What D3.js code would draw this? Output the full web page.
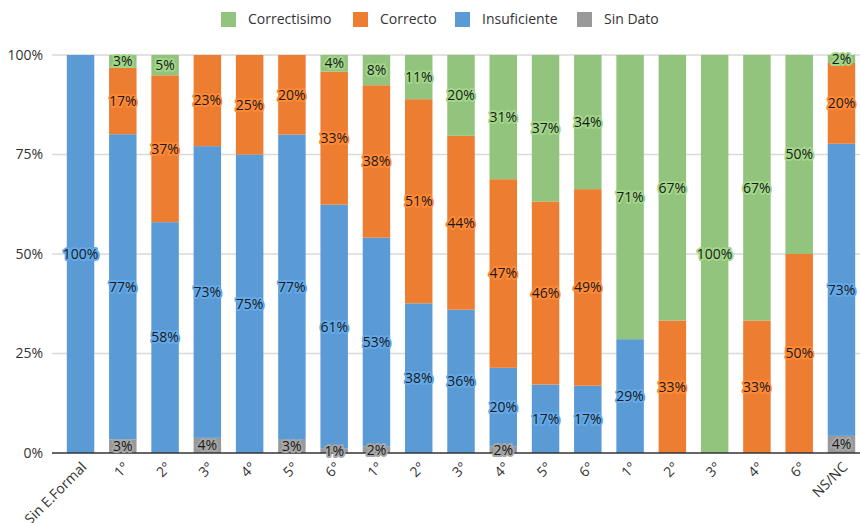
<!DOCTYPE html>
<html>
<head>
<meta charset="utf-8">
<script src="https://cdn.jsdelivr.net/npm/d3@7"></script>
<style>
  body { margin: 0; background: #fff; }
  text { font-family: "Open Sans", "Noto Sans", sans-serif; }
</style>
</head>
<body>
<div id="chart"></div>
<script>
const categories = ['Sin E.Formal', '1°', '2°', '3°', '4°', '5°', '6°',
  '1°', '2°', '3°', '4°', '5°', '6°',
  '1°', '2°', '3°', '4°', '6°', 'NS/NC'];

// percentages per category (stacked to 100)
const correctisimo = [0, 3.2, 5.1, 0, 0, 0, 4.2, 7.6, 11.1, 20.3, 31.2, 36.8, 33.7, 71.4, 66.7, 100, 66.7, 50, 2.0];
const correcto     = [0, 16.7, 36.9, 22.9, 25, 20, 33.4, 38.3, 51.3, 43.7, 47.4, 46.0, 49.4, 0, 33.3, 0, 33.3, 50, 20.3];
const insuficiente = [100, 76.7, 58.0, 73.3, 75, 76.7, 61.3, 52.5, 37.6, 36.0, 19.8, 17.2, 16.9, 28.6, 0, 0, 0, 0, 73.4];
const sinDato      = [0, 3.4, 0, 3.8, 0, 3.3, 1.1, 1.6, 0, 0, 1.6, 0, 0, 0, 0, 0, 0, 0, 4.3];

const yTicks = [0, 25, 50, 75, 100];

const series = [
  { key: 'Correctisimo', values: correctisimo, color: '#93c47d' },
  { key: 'Correcto', values: correcto, color: '#ed7d31' },
  { key: 'Insuficiente', values: insuficiente, color: '#5b9bd5' },
  { key: 'Sin Dato', values: sinDato, color: '#999999' }
];

const width = 860;
const height = 523;
const margin = { top: 55, bottom: 70, left: 52, right: -10 };

const table = categories.map((c, i) => {
  const row = { i: i };
  series.forEach(s => { row[s.key] = s.values[i]; });
  return row;
});

const svg = d3.select('#chart')
  .append('svg')
  .attr('width', width)
  .attr('height', height)
  .attr('viewBox', [0, 0, width, height]);

const x = d3.scaleBand()
  .domain(d3.range(categories.length))
  .range([margin.left, width - margin.right])
  .paddingInner(0.35)
  .paddingOuter(0.35);

const y = d3.scaleLinear()
  .domain([0, 100])
  .range([height - margin.bottom, margin.top]);

// gridlines
svg.append('g')
  .selectAll('line')
  .data(yTicks.filter(d => d > 0))
  .join('line')
    .attr('x1', margin.left)
    .attr('x2', width)
    .attr('y1', d => y(d))
    .attr('y2', d => y(d))
    .attr('stroke', '#d9d9d9')
    .attr('stroke-width', 1.3);

// y tick labels
svg.append('g')
  .selectAll('text')
  .data(yTicks)
  .join('text')
    .attr('x', 43)
    .attr('y', d => y(d))
    .attr('dy', '0.35em')
    .attr('text-anchor', 'end')
    .attr('fill', '#333')
    .attr('font-size', 14)
    .text(d => d + '%');

const keysBottomUp = ['Sin Dato', 'Insuficiente', 'Correcto', 'Correctisimo'];
const stacked = d3.stack().keys(keysBottomUp)(table);
const colorOf = k => series.find(s => s.key === k).color;

const layers = svg.append('g')
  .selectAll('g')
  .data(stacked)
  .join('g')
    .attr('fill', d => colorOf(d.key));

layers.selectAll('rect')
  .data(d => d)
  .join('rect')
    .attr('x', d => x(d.data.i))
    .attr('y', d => y(d[1]))
    .attr('width', x.bandwidth())
    .attr('height', d => y(d[0]) - y(d[1]));

// x axis baseline
svg.append('line')
  .attr('x1', margin.left)
  .attr('x2', width)
  .attr('y1', y(0))
  .attr('y2', y(0))
  .attr('stroke', '#333')
  .attr('stroke-width', 1.3);

// data labels with halo
const labels = svg.append('g');
stacked.forEach(layer => {
  labels.selectAll(null)
    .data(layer.filter(d => d[1] - d[0] >= 0.5))
    .join('text')
      .attr('x', d => x(d.data.i) + x.bandwidth() / 2)
      .attr('y', d => y((d[0] + d[1]) / 2))
      .attr('dy', '0.35em')
      .attr('text-anchor', 'middle')
      .attr('font-size', 14)
      .attr('fill', '#1a1a1a')
      .attr('stroke', d3.color(colorOf(layer.key)).brighter(0.25))
      .attr('stroke-width', 4)
      .attr('stroke-linejoin', 'round')
      .attr('paint-order', 'stroke')
      .text(d => Math.round(d[1] - d[0]) + '%');
});

// x tick labels
svg.append('g')
  .selectAll('text')
  .data(categories)
  .join('text')
    .attr('text-anchor', 'end')
    .attr('font-size', 14)
    .attr('fill', '#333')
    .attr('transform', (d, i) => `translate(${x(i) + x.bandwidth() / 2 + 7},${y(0) + 15}) rotate(-45)`)
    .text(d => d);

// legend
const legend = svg.append('g')
  .selectAll('g')
  .data(series)
  .join('g')
    .attr('transform', (d, i) => `translate(${[221, 353, 455, 577][i]},12)`);

legend.append('rect')
  .attr('width', 15)
  .attr('height', 15)
  .attr('fill', d => d.color);

legend.append('text')
  .attr('x', 27)
  .attr('y', 7.5)
  .attr('dy', '0.35em')
  .attr('font-size', 14)
  .attr('fill', '#333')
  .text(d => d.key);
</script>
</body>
</html>
